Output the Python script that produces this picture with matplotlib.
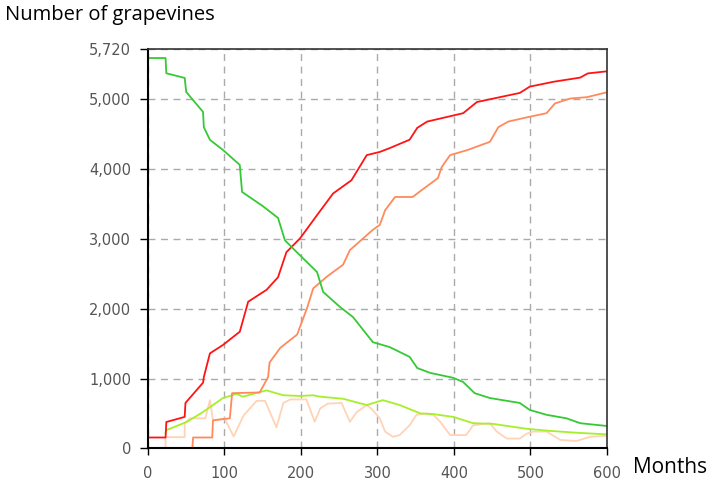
import matplotlib
matplotlib.use("Agg")
import matplotlib.pyplot as plt

# months / grapevine counts
green_m = [0, 23, 24, 48, 50, 72, 73, 81, 98, 120, 123, 150, 170, 179, 188, 221, 229, 251,
           268, 294, 316, 342, 352, 369, 399, 412, 427, 447, 486, 499, 521, 547, 565, 582, 600]
green_v = [5590, 5590, 5372, 5305, 5104, 4818, 4600, 4418, 4274, 4059, 3672, 3470, 3300, 2980,
           2880, 2525, 2240, 2025, 1880, 1520, 1450, 1310, 1150, 1080, 1010, 950, 790, 720, 650,
           550, 480, 430, 360, 340, 320]

red_m = [0, 23, 24, 48, 49, 72, 73, 81, 98, 120, 131, 155, 170, 181, 199, 221, 242, 266, 286,
         303, 316, 342, 352, 365, 412, 430, 486, 499, 530, 565, 575, 600]
red_v = [155, 155, 377, 450, 650, 940, 1020, 1360, 1480, 1670, 2100, 2270, 2450, 2810, 3010,
         3340, 3650, 3840, 4200, 4245, 4300, 4420, 4590, 4680, 4800, 4960, 5090, 5180, 5250,
         5310, 5370, 5400]

coral_m = [58, 59, 84, 85, 107, 110, 146, 157, 159, 173, 195, 208, 216, 234, 255, 264, 294,
           303, 310, 323, 346, 358, 379, 384, 395, 417, 447, 458, 471, 495, 521, 532, 552, 574, 600]
coral_v = [0, 155, 155, 400, 430, 790, 800, 1020, 1230, 1440, 1630, 2010, 2290, 2460, 2630,
           2840, 3130, 3200, 3410, 3600, 3600, 3700, 3870, 4030, 4200, 4270, 4390, 4600, 4680,
           4740, 4800, 4940, 5010, 5030, 5100]

lime_m = [23, 24, 51, 72, 98, 116, 124, 155, 177, 199, 216, 225, 255, 286, 307, 329, 356, 373,
          399, 425, 451, 495, 525, 565, 600]
lime_v = [230, 260, 380, 520, 720, 780, 740, 830, 760, 750, 760, 740, 710, 620, 690, 620, 500,
          490, 450, 360, 350, 280, 250, 220, 200]

peach_m = [23, 23, 48, 48, 55, 75, 81, 85, 100, 112, 125, 142, 153, 168, 177, 186, 207, 218,
           225, 235, 253, 264, 273, 286, 292, 303, 310, 320, 329, 342, 351, 364, 373, 382, 395,
           416, 425, 447, 456, 469, 486, 495, 504, 521, 539, 560, 578, 600]
peach_v = [0, 160, 160, 360, 430, 430, 690, 400, 430, 170, 470, 680, 680, 300, 650, 700, 700,
           380, 570, 640, 650, 380, 520, 620, 570, 430, 240, 165, 190, 330, 480, 500, 480, 380,
           190, 190, 330, 360, 240, 140, 140, 210, 240, 240, 120, 105, 165, 180]

x_ticks = [0, 100, 200, 300, 400, 500, 600]
y_ticks = [0, 1000, 2000, 3000, 4000, 5000, 5720]

fig = plt.figure(figsize=(7.09, 4.8), dpi=100)
ax = fig.add_axes([0.2087, 0.066, 0.6474, 0.832])

ax.plot(peach_m, peach_v, color="#ffd3b6", lw=1.3)
ax.plot(lime_m, lime_v, color="#a6ef2a", lw=1.3)
ax.plot(coral_m, coral_v, color="#ff8a5c", lw=1.3)
ax.plot(red_m, red_v, color="#ff1414", lw=1.3)
ax.plot(green_m, green_v, color="#36c936", lw=1.3)

ax.set_xlim(0, 600)
ax.set_ylim(0, 5720)
ax.set_xticks(x_ticks)
ax.set_yticks(y_ticks)
ax.set_xticklabels([str(t) for t in x_ticks])
ax.set_yticklabels(["{:,}".format(t) for t in y_ticks])

ax.grid(True, color="#aaaaaa", linestyle=(0, (5, 4)), lw=1.0)
ax.tick_params(axis="both", labelsize=10.5, labelcolor="#555555", length=5, width=1,
               direction="out")
ax.tick_params(axis="y", pad=6, length=6)
ax.tick_params(axis="x", pad=8)

for side in ["left", "bottom"]:
    ax.spines[side].set_linewidth(1.5)
    ax.spines[side].set_color("black")
for side in ["top", "right"]:
    ax.spines[side].set_linewidth(1.2)
    ax.spines[side].set_color("#333333")

fig.text(0.007, 0.99, "Number of grapevines", fontsize=14.5, family="Open Sans",
         ha="left", va="top")
fig.text(0.893, 0.027, "Months", fontsize=15, family="Open Sans", ha="left", va="center")

fig.savefig("out.png", dpi=100)
